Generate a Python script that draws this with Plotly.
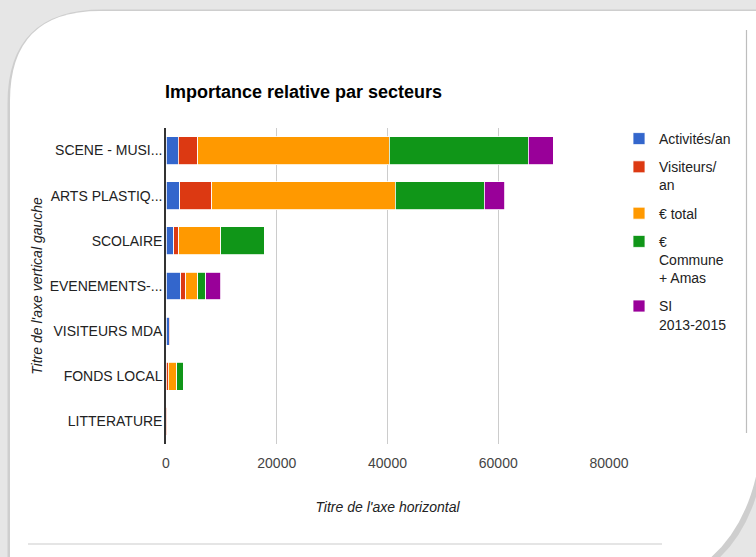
import plotly.graph_objects as go

# ---- data ----
categories = ["SCENE - MUSI...", "ARTS PLASTIQ...", "SCOLAIRE", "EVENEMENTS-...",
              "VISITEURS MDA", "FONDS LOCAL", "LITTERATURE"]
series_names = ["Activités/an", "Visiteurs/<br>an", "€ total", "€<br>Commune<br>+ Amas", "SI<br>2013-2015"]
activites = [2200, 2500, 1400, 2700, 550, 50, 0]
visiteurs = [3500, 5800, 900, 900, 250, 350, 350]
euro_total = [34600, 33100, 7600, 2100, 0, 1500, 0]
euro_commune = [25100, 16100, 7800, 1500, 0, 1250, 0]
si_2013_2015 = [4500, 3700, 0, 2650, 0, 0, 0]
series_values = [activites, visiteurs, euro_total, euro_commune, si_2013_2015]
colors = ["#3366cc", "#dc3912", "#ff9900", "#109618", "#990099"]
x_ticks = [0, 20000, 40000, 60000, 80000]

W, H = 756, 557
ML, MR, MT, MB = 166, 147, 128, 113
PW, PH = W - ML - MR, H - MT - MB

def px(X):
    return (X - ML) / PW

def py(Y):
    return (H - MB - Y) / PH

def path(cmds):
    out = []
    for c in cmds:
        if c[0] == "Z":
            out.append("Z")
        else:
            letter, pts = c[0], c[1:]
            s = letter + " " + " ".join(f"{px(pts[i]):.5f},{py(pts[i+1]):.5f}" for i in range(0, len(pts), 2))
            out.append(s)
    return " ".join(out)

fig = go.Figure()
for name, vals, col in zip(series_names, series_values, colors):
    fig.add_trace(go.Bar(
        y=categories, x=vals, name=name, orientation="h",
        marker=dict(color=col, line=dict(color="white", width=0.8)),
        legendgroup=name,
    ))

card = path([("M", 10, 560), ("L", 10, 101), ("Q", 10, 11, 100, 11), ("L", 760, 11),
             ("L", 760, 455), ("Q", 750, 525, 708, 560), ("Z",)])
shadow = path([("M", 12, 560), ("L", 12, 103), ("Q", 12, 14, 102, 14), ("L", 760, 14),
               ("L", 760, 458), ("Q", 750, 528, 710, 560), ("Z",)])

shapes = [
    dict(type="path", path=shadow, xref="paper", yref="paper", layer="below",
         fillcolor="rgba(0,0,0,0)", line=dict(color="rgba(0,0,0,0.10)", width=9)),
    dict(type="path", path=card, xref="paper", yref="paper", layer="below",
         fillcolor="white", line=dict(width=0)),
    dict(type="line", xref="paper", yref="paper", x0=px(746.5), x1=px(746.5), y0=py(30), y1=py(433),
         line=dict(color="#bdbdbd", width=1.2), layer="above"),
    dict(type="line", xref="paper", yref="paper", x0=px(28), x1=px(662), y0=py(544), y1=py(544),
         line=dict(color="#cccccc", width=1.2), layer="above"),
]

font_family = "Liberation Sans, Arial, sans-serif"
fig.update_layout(
    width=W, height=H,
    margin=dict(l=ML, r=MR, t=MT, b=MB, autoexpand=False),
    barmode="stack", bargap=0.38,
    paper_bgcolor="#e6e6e6", plot_bgcolor="rgba(0,0,0,0)",
    font=dict(family=font_family, size=14, color="#222222"),
    title=dict(text="<b>Importance relative par secteurs</b>", x=165 / W, xanchor="left",
               y=1 - 92 / H, yanchor="middle", yref="container",
               font=dict(size=18, color="#000000", family=font_family)),
    xaxis=dict(range=[0, 80000], tickvals=x_ticks, ticktext=[str(v) for v in x_ticks],
               showgrid=True, gridcolor="#cccccc", gridwidth=1, zeroline=False,
               showline=False, ticks="", ticklabelstandoff=9,
               tickfont=dict(color="#444444", size=14),
               title=dict(text="<i>Titre de l'axe horizontal</i>", standoff=32,
                          font=dict(size=14, color="#222222"))),
    yaxis=dict(categoryorder="array", categoryarray=categories, autorange="reversed",
               showline=True, linecolor="#333333", linewidth=1.5, ticks="",
               showgrid=False, zeroline=False, ticklabelstandoff=-1,
               tickfont=dict(color="#222222", size=14),
               title=dict(text="<i>Titre de l'axe vertical gauche</i>", standoff=4,
                          font=dict(size=14, color="#222222"))),
    legend=dict(x=px(619), y=py(123), xanchor="left", yanchor="top", traceorder="grouped",
                valign="top", tracegroupgap=7, font=dict(size=14, color="#222222"),
                bgcolor="rgba(0,0,0,0)", itemwidth=30),
    shapes=shapes,
)

fig.write_html("out.html", post_script="document.body.style.margin='0px';",
               config={"displayModeBar": False})
